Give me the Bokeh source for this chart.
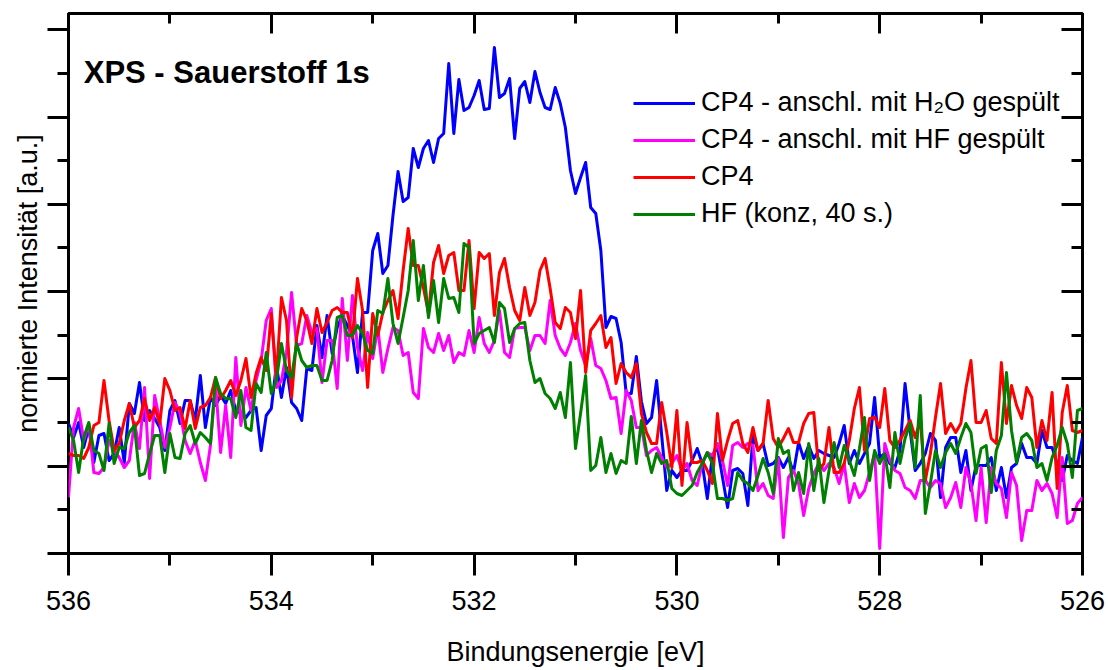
import numpy as np
from bokeh.plotting import figure
from bokeh.models import (Range1d, LinearAxis, FixedTicker, SingleIntervalTicker,
                          CustomJSTickFormatter, Legend, LegendItem, Label, Title)
from bokeh.embed import file_html
from bokeh.resources import INLINE

# Binding energy grid (eV), 0.05 eV steps from 536 down to 526
energy = np.round(np.linspace(536.0, 526.0, 201), 3)

# normalised intensity (arbitrary units)
h2o_rinsed = [
    130, 116, 131, 106, 126, 91, 118, 120, 93, 100,
    126, 91, 150, 140, 171, 133, 143, 135, 126, 103,
    143, 153, 130, 153, 153, 133, 178, 126, 156, 148,
    158, 150, 163, 143, 140, 136, 143, 146, 103, 138,
    145, 188, 156, 186, 151, 145, 133, 185, 183, 228,
    196, 238, 200, 226, 238, 228, 218, 181, 241, 241,
    303, 320, 280, 288, 338, 382, 352, 356, 405, 386,
    405, 413, 391, 415, 420, 490, 420, 474, 443, 446,
    458, 473, 444, 445, 506, 456, 460, 475, 415, 465,
    472, 451, 482, 461, 446, 444, 466, 450, 426, 383,
    360, 376, 391, 346, 340, 303, 226, 237, 235, 211,
    160, 160, 197, 152, 130, 136, 173, 118, 63, 83,
    76, 83, 83, 93, 105, 90, 55, 98, 106, 76,
    46, 83, 85, 80, 48, 118, 103, 110, 88, 90,
    96, 86, 96, 81, 111, 95, 108, 95, 103, 100,
    98, 96, 110, 128, 90, 103, 90, 100, 110, 156,
    96, 100, 90, 86, 103, 170, 123, 83, 90, 100,
    120, 113, 56, 106, 116, 116, 81, 103, 63, 88,
    88, 88, 96, 63, 86, 56, 86, 90, 110, 96,
    96, 90, 123, 106, 106, 90, 73, 98, 93, 90,
    116,
]

hf_rinsed = [
    56, 126, 145, 113, 130, 81, 80, 86, 113, 103,
    96, 86, 93, 131, 105, 166, 75, 158, 133, 106,
    126, 151, 141, 113, 100, 113, 91, 73, 108, 170,
    101, 148, 96, 196, 128, 166, 143, 173, 193, 233,
    245, 166, 173, 201, 261, 208, 210, 238, 221, 225,
    171, 213, 213, 165, 255, 193, 258, 206, 183, 221,
    195, 226, 181, 205, 226, 223, 198, 201, 161, 155,
    225, 206, 201, 220, 203, 218, 191, 201, 198, 223,
    201, 236, 210, 201, 213, 243, 201, 196, 225, 226,
    226, 203, 218, 218, 210, 253, 218, 205, 198, 211,
    230, 203, 188, 215, 188, 185, 173, 155, 156, 120,
    163, 153, 126, 126, 98, 103, 106, 96, 86, 90,
    98, 83, 90, 73, 68, 90, 101, 98, 110, 93,
    68, 108, 111, 106, 110, 108, 63, 70, 58, 55,
    95, 16, 76, 83, 70, 38, 65, 80, 90, 83,
    90, 86, 70, 90, 51, 70, 56, 63, 81, 100,
    5, 110, 93, 83, 80, 66, 63, 55, 73, 73,
    66, 73, 70, 46, 56, 71, 46, 86, 70, 33,
    86, 31, 86, 70, 65, 36, 81, 68, 13, 43,
    43, 73, 63, 70, 60, 36, 96, 30, 33, 50,
    56,
]

cp4 = [
    100, 98, 98, 95, 106, 128, 131, 173, 133, 103,
    110, 133, 150, 126, 133, 155, 133, 146, 130, 175,
    163, 143, 146, 125, 153, 125, 146, 148, 156, 176,
    155, 163, 173, 158, 173, 195, 156, 180, 196, 183,
    240, 176, 256, 233, 156, 216, 245, 233, 210, 245,
    221, 231, 243, 246, 241, 241, 216, 275, 243, 166,
    240, 218, 241, 253, 263, 235, 283, 325, 288, 288,
    266, 240, 291, 308, 280, 298, 301, 263, 263, 313,
    245, 301, 295, 300, 238, 281, 295, 266, 243, 233,
    266, 238, 251, 283, 295, 265, 231, 225, 246, 241,
    215, 263, 181, 223, 230, 238, 206, 216, 170, 190,
    181, 176, 190, 140, 121, 110, 110, 151, 121, 86,
    143, 68, 131, 91, 91, 93, 83, 70, 140, 93,
    113, 130, 133, 110, 101, 126, 103, 110, 153, 115,
    106, 115, 125, 111, 111, 130, 140, 141, 83, 90,
    126, 81, 81, 90, 113, 145, 166, 103, 135, 136,
    126, 165, 113, 106, 113, 123, 133, 116, 133, 73,
    100, 136, 170, 120, 130, 121, 130, 165, 193, 131,
    131, 143, 115, 110, 191, 130, 168, 148, 135, 166,
    156, 106, 133, 113, 161, 65, 141, 168, 123, 121,
    123,
]

hf_conc = [
    126, 113, 81, 116, 131, 103, 100, 83, 130, 90,
    106, 105, 121, 128, 78, 80, 100, 118, 118, 81,
    120, 96, 95, 120, 128, 110, 121, 116, 110, 176,
    160, 155, 155, 136, 163, 126, 123, 170, 161, 201,
    160, 173, 210, 183, 176, 210, 193, 186, 188, 188,
    173, 173, 193, 236, 238, 218, 218, 228, 220, 203,
    200, 243, 240, 275, 230, 210, 236, 263, 313, 253,
    288, 236, 273, 231, 275, 255, 256, 241, 310, 306,
    210, 220, 223, 226, 211, 251, 245, 211, 225, 230,
    231, 193, 171, 175, 160, 155, 145, 161, 136, 191,
    105, 140, 178, 83, 88, 116, 81, 100, 80, 93,
    90, 137, 90, 133, 103, 81, 100, 90, 93, 65,
    60, 58, 63, 68, 81, 90, 101, 90, 55, 55,
    53, 55, 81, 73, 70, 63, 78, 95, 81, 60,
    115, 100, 103, 63, 81, 60, 110, 63, 95, 51,
    83, 111, 86, 108, 93, 78, 105, 136, 73, 103,
    90, 100, 66, 121, 90, 115, 130, 86, 158, 40,
    70, 103, 86, 101, 110, 100, 116, 130, 121, 80,
    105, 108, 61, 103, 118, 181, 123, 91, 116, 120,
    113, 86, 90, 73, 96, 108, 126, 110, 76, 143,
    145,
]

series_labels = ["CP4 - anschl. mit H\u2082O gespült", "CP4 - anschl. mit HF gespült",
                 "CP4", "HF (konz, 40 s.)"]
series_colors = ["#0000ff", "#ff00ff", "#ff0000", "#008000"]
series_values = [h2o_rinsed, hf_rinsed, cp4, hf_conc]

title_text = "XPS - Sauerstoff 1s"
x_label = "Bindungsenergie [eV]"
y_label = "normierte Intensität [a.u.]"

FONT = "Liberation Sans"

p = figure(width=1108, height=670, output_backend="svg", toolbar_location=None,
           x_range=Range1d(536, 526), y_range=Range1d(0, 540),
           min_border_left=68, min_border_right=26, min_border_top=13,
           min_border_bottom=117, background_fill_color="white",
           border_fill_color="white")
p.grid.visible = False
p.outline_line_color = "black"
p.outline_line_width = 3

y_step = 87.3
y_major = [y_step * k for k in range(7)]
y_minor = [y_step * (k + 0.5) for k in range(6)]
blank = CustomJSTickFormatter(code="return ''")


def style_ticks(ax, tin, tout, mtin, mtout):
    ax.axis_line_color = None
    ax.major_tick_line_color = "black"
    ax.minor_tick_line_color = "black"
    ax.major_tick_line_width = 3
    ax.minor_tick_line_width = 3
    ax.major_tick_in = tin
    ax.major_tick_out = tout
    ax.minor_tick_in = mtin
    ax.minor_tick_out = mtout


# bottom axis
xb = p.xaxis[0]
xb.ticker = SingleIntervalTicker(interval=2, num_minor_ticks=2)
style_ticks(xb, 0, 22, 0, 12)
xb.major_label_text_font = FONT
xb.major_label_text_font_size = "27px"
xb.major_label_text_color = "black"
xb.major_label_standoff = 15
xb.axis_label = x_label
xb.axis_label_text_font = FONT
xb.axis_label_text_font_size = "27px"
xb.axis_label_text_font_style = "normal"
xb.axis_label_text_color = "black"
xb.axis_label_standoff = 24

# left axis (ticks only; its title sits beside it, shifted up as in the original)
yl = p.yaxis[0]
yl.ticker = FixedTicker(ticks=y_major, minor_ticks=y_minor)
style_ticks(yl, 0, 21, 0, 11)
yl.formatter = blank
yl.major_label_text_font_size = "0px"
yl.major_label_standoff = 0

p.add_layout(Title(text=y_label, align="center", offset=27, standoff=9,
                   text_font=FONT, text_font_size="27px",
                   text_font_style="normal", text_color="black"), "left")

# top axis
xt = LinearAxis(ticker=SingleIntervalTicker(interval=2, num_minor_ticks=2),
                formatter=blank)
style_ticks(xt, 20, 0, 10, 0)
xt.major_label_text_font_size = "0px"
xt.major_label_standoff = 0
p.add_layout(xt, "above")

# right axis
yr = LinearAxis(ticker=FixedTicker(ticks=y_major, minor_ticks=y_minor),
                formatter=blank)
style_ticks(yr, 21, 0, 11, 0)
yr.major_label_text_font_size = "0px"
yr.major_label_standoff = 0
p.add_layout(yr, "right")

items = []
for lab, col, vals in zip(series_labels, series_colors, series_values):
    r = p.line(energy, vals, line_color=col, line_width=3, line_join="round")
    items.append(LegendItem(label=lab, renderers=[r]))

legend = Legend(items=items, location=(565, 324),
                label_text_font=FONT, label_text_font_size="27px",
                label_text_color="black", glyph_width=62, glyph_height=30,
                label_height=30, label_standoff=6, spacing=6, padding=0,
                margin=0, background_fill_alpha=0, border_line_color=None)
p.add_layout(legend)

p.add_layout(Label(x=535.85, y=481, text=title_text, text_font=FONT,
                   text_font_size="31px", text_font_style="bold",
                   text_color="black", text_baseline="alphabetic"))

open("out.html", "w").write(file_html(p, INLINE))
